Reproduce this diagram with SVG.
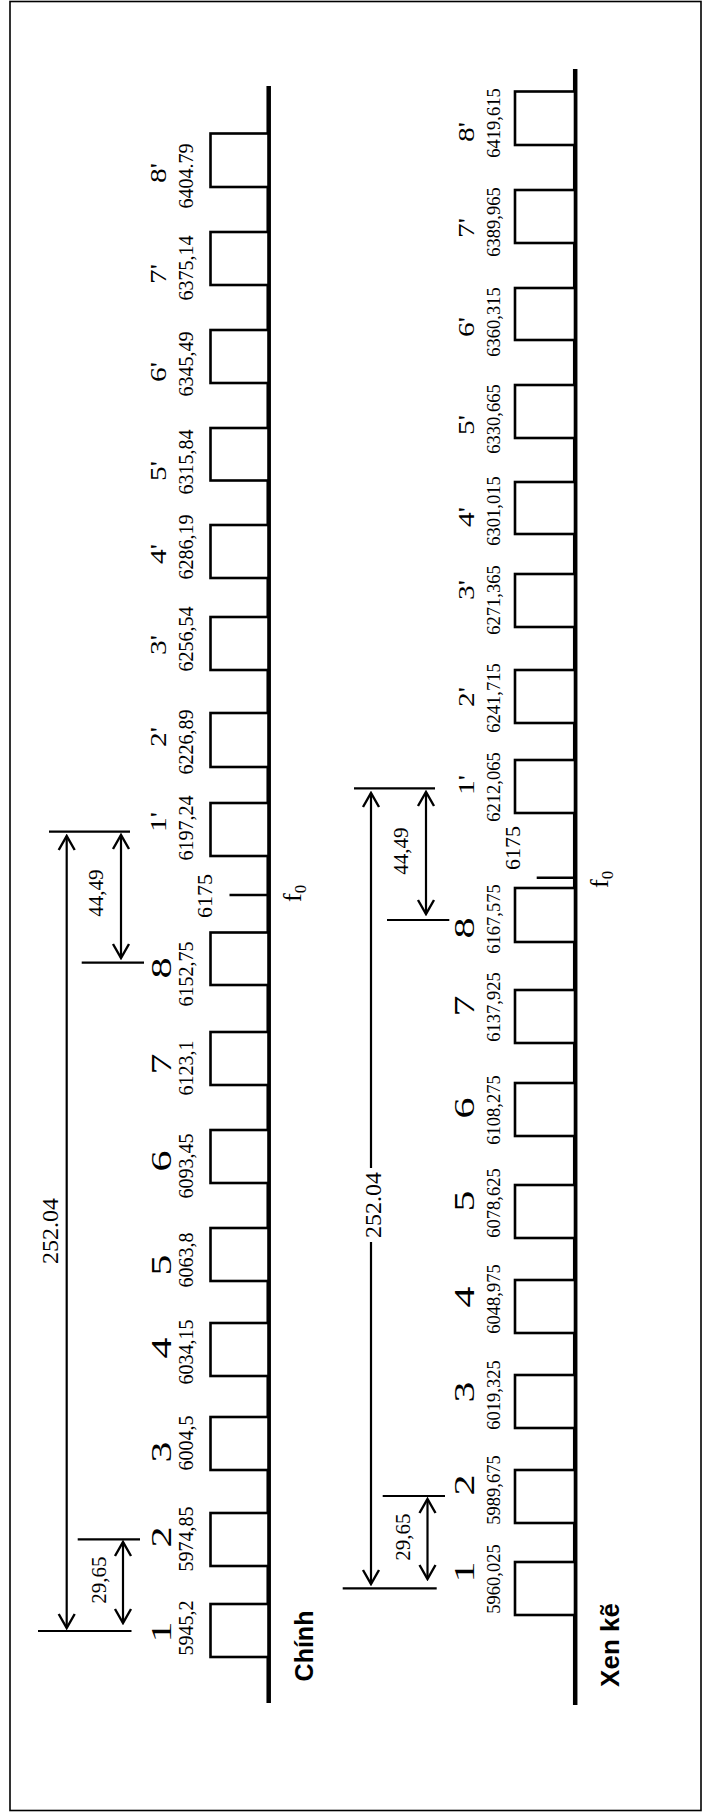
<svg xmlns="http://www.w3.org/2000/svg" width="706" height="1812" viewBox="0 0 706 1812">
<style>
.box{fill:#fff;stroke:#000;stroke-width:2.6}
.axis{stroke:#000;stroke-width:4.5}
.tick{stroke:#000;stroke-width:2.5}
.ext{stroke:#000;stroke-width:2.2}
.arr{stroke:#000;stroke-width:2.2;fill:none;marker-start:url(#ah);marker-end:url(#ah)}
text{font-family:"Liberation Serif","Times New Roman",serif;fill:#000;text-anchor:middle}
.lb{font-size:29px}
.lp{font-size:24px}
.n1{font-size:20px}
.n2{font-size:18.5px}
.dim{font-size:21px}
.big{font-size:24px}
.ttl{font-family:"Liberation Sans",Arial,sans-serif;font-weight:bold;font-size:25px}
</style>
<defs>
<marker id="ah" viewBox="-16 -10 18 20" refX="0" refY="0" markerWidth="18" markerHeight="20" markerUnits="userSpaceOnUse" orient="auto-start-reverse">
<path d="M-14,-8 L0,0 L-14,8" fill="none" stroke="#000" stroke-width="2.4"/>
</marker>
</defs>
<rect x="10" y="1.5" width="691" height="1809" fill="#fff" stroke="#000" stroke-width="1.6"/>

<!-- ===== Chính ===== -->
<g id="chinh-axis">
<line class="axis" x1="268.7" y1="86" x2="268.7" y2="1703"/>
<text class="ttl" transform="translate(313,1646) rotate(-90)">Chính</text>
</g>
<g id="c8p"><rect class="box" x="210.5" y="133.5" width="58" height="53.5"/><text class="lp" textLength="20" lengthAdjust="spacingAndGlyphs" transform="translate(166,173) rotate(-90)">8'</text><text class="n1" transform="translate(193,176) rotate(-90)">6404.79</text></g>
<g id="c7p"><rect class="box" x="210.5" y="232" width="58" height="53"/><text class="lp" textLength="20" lengthAdjust="spacingAndGlyphs" transform="translate(166,274) rotate(-90)">7'</text><text class="n1" transform="translate(193,268) rotate(-90)">6375,14</text></g>
<g id="c6p"><rect class="box" x="210.5" y="330" width="58" height="53"/><text class="lp" textLength="20" lengthAdjust="spacingAndGlyphs" transform="translate(166,372) rotate(-90)">6'</text><text class="n1" transform="translate(193,364) rotate(-90)">6345,49</text></g>
<g id="c5p"><rect class="box" x="210.5" y="428" width="58" height="52.5"/><text class="lp" textLength="20" lengthAdjust="spacingAndGlyphs" transform="translate(166,471) rotate(-90)">5'</text><text class="n1" transform="translate(193,462) rotate(-90)">6315,84</text></g>
<g id="c4p"><rect class="box" x="210.5" y="525" width="58" height="53"/><text class="lp" textLength="20" lengthAdjust="spacingAndGlyphs" transform="translate(166,554) rotate(-90)">4'</text><text class="n1" transform="translate(193,547) rotate(-90)">6286,19</text></g>
<g id="c3p"><rect class="box" x="210.5" y="617" width="58" height="53"/><text class="lp" textLength="20" lengthAdjust="spacingAndGlyphs" transform="translate(166,645) rotate(-90)">3'</text><text class="n1" transform="translate(193,639) rotate(-90)">6256,54</text></g>
<g id="c2p"><rect class="box" x="210.5" y="713" width="58" height="54"/><text class="lp" textLength="20" lengthAdjust="spacingAndGlyphs" transform="translate(166,737) rotate(-90)">2'</text><text class="n1" transform="translate(193,742) rotate(-90)">6226,89</text></g>
<g id="c1p"><rect class="box" x="210.5" y="803" width="58" height="53"/><text class="lp" textLength="20" lengthAdjust="spacingAndGlyphs" transform="translate(166,822) rotate(-90)">1'</text><text class="n1" transform="translate(193,828) rotate(-90)">6197,24</text></g>
<g id="c-f0"><line class="tick" x1="229.5" y1="895" x2="268.7" y2="895"/><text style="font-size:22px" transform="translate(212,896) rotate(-90)">6175</text><text style="font-size:26px;text-anchor:start" transform="translate(301,902) rotate(-90)">f<tspan style="font-size:17px" dy="5">0</tspan></text></g>
<g id="c8"><rect class="box" x="210.5" y="932.5" width="58" height="52.5"/><text class="lb" textLength="21" lengthAdjust="spacingAndGlyphs" transform="translate(171,968) rotate(-90)">8</text><text class="n1" transform="translate(193,974) rotate(-90)">6152,75</text></g>
<g id="c7"><rect class="box" x="210.5" y="1032" width="58" height="53"/><text class="lb" textLength="21" lengthAdjust="spacingAndGlyphs" transform="translate(171,1064) rotate(-90)">7</text><text class="n1" transform="translate(193,1068) rotate(-90)">6123,1</text></g>
<g id="c6"><rect class="box" x="210.5" y="1130" width="58" height="53"/><text class="lb" textLength="21" lengthAdjust="spacingAndGlyphs" transform="translate(171,1161) rotate(-90)">6</text><text class="n1" transform="translate(193,1166) rotate(-90)">6093,45</text></g>
<g id="c5"><rect class="box" x="210.5" y="1228" width="58" height="53"/><text class="lb" textLength="21" lengthAdjust="spacingAndGlyphs" transform="translate(171,1265) rotate(-90)">5</text><text class="n1" transform="translate(193,1260) rotate(-90)">6063,8</text></g>
<g id="c4"><rect class="box" x="210.5" y="1323" width="58" height="53"/><text class="lb" textLength="21" lengthAdjust="spacingAndGlyphs" transform="translate(171,1348) rotate(-90)">4</text><text class="n1" transform="translate(193,1352) rotate(-90)">6034,15</text></g>
<g id="c3"><rect class="box" x="210.5" y="1417" width="58" height="53"/><text class="lb" textLength="21" lengthAdjust="spacingAndGlyphs" transform="translate(171,1452) rotate(-90)">3</text><text class="n1" transform="translate(193,1443) rotate(-90)">6004,5</text></g>
<g id="c2"><rect class="box" x="210.5" y="1513" width="58" height="53"/><text class="lb" textLength="21" lengthAdjust="spacingAndGlyphs" transform="translate(171,1537) rotate(-90)">2</text><text class="n1" transform="translate(193,1539) rotate(-90)">5974,85</text></g>
<g id="c1"><rect class="box" x="210.5" y="1604" width="58" height="53"/><text class="lb" textLength="21" lengthAdjust="spacingAndGlyphs" transform="translate(171,1632) rotate(-90)">1</text><text class="n1" transform="translate(193,1628) rotate(-90)">5945,2</text></g>

<!-- ===== Xen kẽ ===== -->
<g id="xen-axis">
<line class="axis" x1="575.2" y1="69" x2="575.2" y2="1705"/>
<text class="ttl" style="font-size:26px" transform="translate(619,1645) rotate(-90)">Xen kẽ</text>
</g>
<g id="x8p"><rect class="box" x="515" y="91.5" width="60" height="53.5"/><text class="lp" textLength="20" lengthAdjust="spacingAndGlyphs" transform="translate(474,132) rotate(-90)">8'</text><text class="n2" transform="translate(500,123) rotate(-90)">6419,615</text></g>
<g id="x7p"><rect class="box" x="515" y="190" width="60" height="53"/><text class="lp" textLength="20" lengthAdjust="spacingAndGlyphs" transform="translate(474,228) rotate(-90)">7'</text><text class="n2" transform="translate(500,222) rotate(-90)">6389,965</text></g>
<g id="x6p"><rect class="box" x="515" y="288" width="60" height="52"/><text class="lp" textLength="20" lengthAdjust="spacingAndGlyphs" transform="translate(474,327) rotate(-90)">6'</text><text class="n2" transform="translate(500,322) rotate(-90)">6360,315</text></g>
<g id="x5p"><rect class="box" x="515" y="385" width="60" height="53"/><text class="lp" textLength="20" lengthAdjust="spacingAndGlyphs" transform="translate(474,425) rotate(-90)">5'</text><text class="n2" transform="translate(500,419) rotate(-90)">6330,665</text></g>
<g id="x4p"><rect class="box" x="515" y="482" width="60" height="52"/><text class="lp" textLength="20" lengthAdjust="spacingAndGlyphs" transform="translate(474,517) rotate(-90)">4'</text><text class="n2" transform="translate(500,511) rotate(-90)">6301,015</text></g>
<g id="x3p"><rect class="box" x="515" y="574" width="60" height="53"/><text class="lp" textLength="20" lengthAdjust="spacingAndGlyphs" transform="translate(474,590) rotate(-90)">3'</text><text class="n2" transform="translate(500,600) rotate(-90)">6271,365</text></g>
<g id="x2p"><rect class="box" x="515" y="670" width="60" height="53"/><text class="lp" textLength="20" lengthAdjust="spacingAndGlyphs" transform="translate(474,697) rotate(-90)">2'</text><text class="n2" transform="translate(500,698) rotate(-90)">6241,715</text></g>
<g id="x1p"><rect class="box" x="515" y="760" width="60" height="53"/><text class="lp" textLength="20" lengthAdjust="spacingAndGlyphs" transform="translate(474,785) rotate(-90)">1'</text><text class="n2" transform="translate(500,787) rotate(-90)">6212,065</text></g>
<g id="x-f0"><line class="tick" x1="536.7" y1="877.7" x2="575.2" y2="877.7"/><text style="font-size:22px" transform="translate(520,848) rotate(-90)">6175</text><text style="font-size:26px;text-anchor:start" transform="translate(608,888) rotate(-90)">f<tspan style="font-size:17px" dy="5">0</tspan></text></g>
<g id="x8"><rect class="box" x="515" y="888" width="60" height="54"/><text class="lb" textLength="21" lengthAdjust="spacingAndGlyphs" transform="translate(474,928) rotate(-90)">8</text><text class="n2" transform="translate(500,919) rotate(-90)">6167,575</text></g>
<g id="x7"><rect class="box" x="515" y="990" width="60" height="53"/><text class="lb" textLength="21" lengthAdjust="spacingAndGlyphs" transform="translate(474,1006) rotate(-90)">7</text><text class="n2" transform="translate(500,1007) rotate(-90)">6137,925</text></g>
<g id="x6"><rect class="box" x="515" y="1083" width="60" height="53"/><text class="lb" textLength="21" lengthAdjust="spacingAndGlyphs" transform="translate(474,1108) rotate(-90)">6</text><text class="n2" transform="translate(500,1110) rotate(-90)">6108,275</text></g>
<g id="x5"><rect class="box" x="515" y="1185" width="60" height="53"/><text class="lb" textLength="21" lengthAdjust="spacingAndGlyphs" transform="translate(474,1201) rotate(-90)">5</text><text class="n2" transform="translate(500,1203) rotate(-90)">6078,625</text></g>
<g id="x4"><rect class="box" x="515" y="1280" width="60" height="53"/><text class="lb" textLength="21" lengthAdjust="spacingAndGlyphs" transform="translate(474,1297) rotate(-90)">4</text><text class="n2" transform="translate(500,1299) rotate(-90)">6048,975</text></g>
<g id="x3"><rect class="box" x="515" y="1375" width="60" height="53"/><text class="lb" textLength="21" lengthAdjust="spacingAndGlyphs" transform="translate(474,1392) rotate(-90)">3</text><text class="n2" transform="translate(500,1395) rotate(-90)">6019,325</text></g>
<g id="x2"><rect class="box" x="515" y="1470" width="60" height="53"/><text class="lb" textLength="21" lengthAdjust="spacingAndGlyphs" transform="translate(474,1485) rotate(-90)">2</text><text class="n2" transform="translate(500,1490) rotate(-90)">5989,675</text></g>
<g id="x1"><rect class="box" x="515" y="1562" width="60" height="53"/><text class="lb" textLength="21" lengthAdjust="spacingAndGlyphs" transform="translate(474,1572) rotate(-90)">1</text><text class="n2" transform="translate(500,1579) rotate(-90)">5960,025</text></g>

<!-- ===== connectors / dimensions ===== -->
<g id="connectors">
<line class="ext" x1="49" y1="831.7" x2="130" y2="831.7"/>
<line class="ext" x1="81.7" y1="962.7" x2="144" y2="962.7"/>
<line class="ext" x1="38" y1="1631" x2="131.5" y2="1631"/>
<line class="ext" x1="77.7" y1="1539.3" x2="140" y2="1539.3"/>
<line class="arr" x1="121" y1="835" x2="121" y2="958"/>
<line class="arr" x1="66.7" y1="836" x2="66.7" y2="1628"/>
<line class="arr" x1="123" y1="1542" x2="123" y2="1623"/>
<text class="dim" transform="translate(103,893) rotate(-90)">44,49</text>
<text class="dim" transform="translate(106,1580) rotate(-90)">29,65</text>
<text class="big" transform="translate(58,1231) rotate(-90)">252.04</text>

<line class="ext" x1="354" y1="788.3" x2="435" y2="788.3"/>
<line class="ext" x1="387" y1="920" x2="449.3" y2="920"/>
<line class="ext" x1="342.7" y1="1588.3" x2="436.7" y2="1588.3"/>
<line class="ext" x1="382.7" y1="1496" x2="445" y2="1496"/>
<line class="arr" x1="426" y1="792" x2="426" y2="914"/>
<line class="arr" x1="371" y1="793" x2="371" y2="1584"/>
<line class="arr" x1="427.5" y1="1499" x2="427.5" y2="1579"/>
<text class="dim" transform="translate(408,851) rotate(-90)">44,49</text>
<text class="dim" transform="translate(410,1537) rotate(-90)">29,65</text>
<rect x="356" y="1168" width="28" height="74" fill="#fff"/>
<text class="big" transform="translate(381,1205) rotate(-90)">252.04</text>
</g>
</svg>
